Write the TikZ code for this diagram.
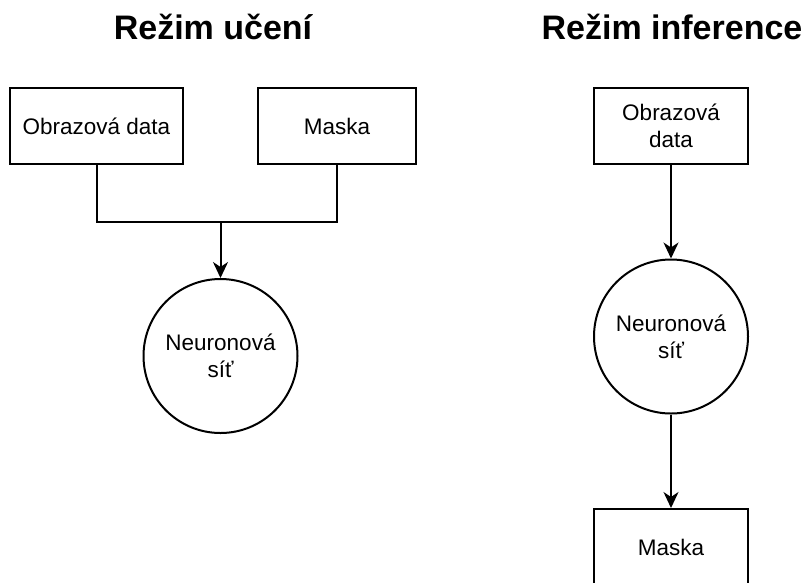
\documentclass[tikz,border=0pt]{standalone}
\usepackage{fontspec}
\setmainfont{Liberation Sans}
\usetikzlibrary{arrows.meta}
\tikzset{
  box/.style={draw, line width=2pt, minimum height=76pt, inner sep=0pt, align=center, font=\fontsize{22.5}{27}\selectfont},
  circ/.style={draw, circle, line width=2pt, minimum size=154pt, inner sep=0pt, align=center, font=\fontsize{22.5}{27}\selectfont},
  ttl/.style={font=\fontsize{34}{40}\bfseries\selectfont, anchor=base},
  conn/.style={line width=2pt},
  arr/.style={conn, -{Stealth[length=16pt, width=15pt, inset=5pt]}}
}
\begin{document}
\begin{tikzpicture}[x=1pt, y=-1pt]
\useasboundingbox (0,0) rectangle (808,582);
\node[ttl] (t1) at (213,39) {Režim učení};
\node[ttl] (t2) at (672,39) {Režim inference};
% left
\node[box, minimum width=173pt] (l1) at (96.5,126) {Obrazová data};
\node[box, minimum width=158pt] (l2) at (337,126) {Maska};
\node[circ] (lc) at (220.5,356) {Neuronová\\síť};
\coordinate (j) at (220.5,222);
\draw[conn] (l1.south) |- (j) -| (l2.south);
\draw[arr] (j) -- (lc.north);
% right
\node[box, minimum width=154pt] (r1) at (671,126) {Obrazová\\data};
\node[circ] (rc) at (671,336.5) {Neuronová\\síť};
\node[box, minimum width=154pt] (r2) at (671,547) {Maska};
\draw[arr] (r1.south) -- (rc.north);
\draw[arr] (rc.south) -- (r2.north);
\end{tikzpicture}
\end{document}
